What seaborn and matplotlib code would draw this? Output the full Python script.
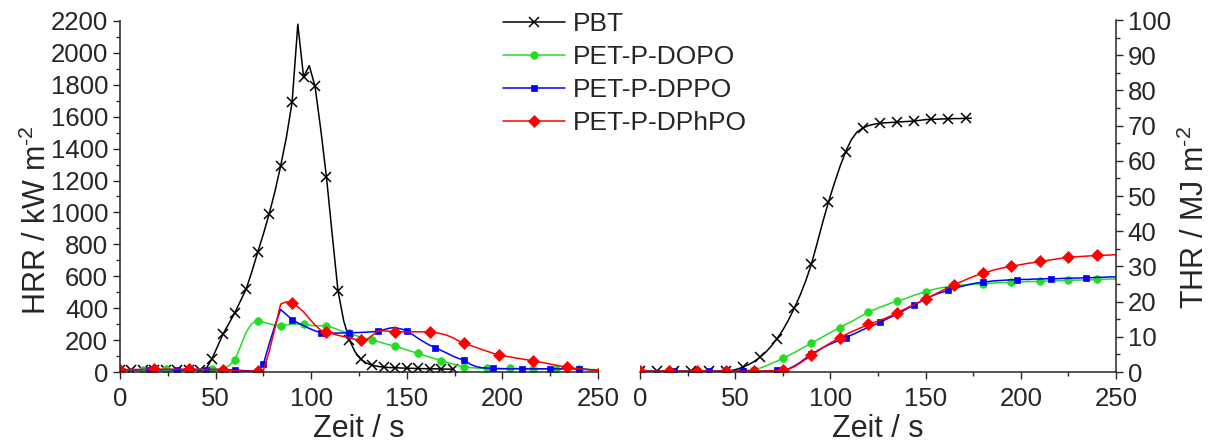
#!/usr/bin/env python3

import numpy as np
import matplotlib.pyplot as plt
import seaborn as sns
from matplotlib.ticker import MultipleLocator

SET_DPI = 100
FIGSIZE = (12.19, 4.44)

NAMES = ['PBT', 'PET-P-DOPO', 'PET-P-DPPO', 'PET-P-DPhPO']
COLOURS = ['#000000', '#22dd22', '#0000ff', '#ff0000']
MARKERS = ['x', 'o', 's', 'D']
MSIZES = [7, 5.5, 5, 6]
HRR_EVERY = [2, 4, 5, 6]
THR_EVERY = [3, 5, 6, 5]

# time in s, cone sampled every 3 s (PBT burns out at 174 s)
TIME_PBT = np.arange(0, 175, 3)
TIME = np.arange(0, 253, 3)

# heat release rate / kW m-2
HRR_PBT = [15, 15, 12, 12, 12, 12, 12, 12, 12, 12,
           12, 12, 12, 12, 15, 20, 80, 160, 240, 305,
           370, 445, 520, 630, 750, 865, 990, 1130, 1290, 1470,
           1690, 2180, 1850, 1920, 1790, 1520, 1220, 860, 510, 320,
           200, 125, 80, 55, 42, 35, 30, 28, 27, 25,
           24, 23, 22, 21, 20, 20, 19, 18, 18]
HRR_DOPO = [10, 12, 12, 13, 14, 14, 15, 15, 16, 15,
            15, 15, 16, 16, 16, 16, 17, 17, 20, 40,
            75, 160, 250, 305, 320, 312, 302, 294, 290, 295,
            300, 300, 298, 293, 290, 290, 290, 280, 265, 252,
            242, 230, 218, 208, 200, 190, 180, 170, 162, 150,
            138, 127, 116, 104, 93, 82, 71, 60, 50, 40,
            33, 28, 25, 23, 23, 22, 22, 22, 22, 22,
            22, 21, 21, 21, 20, 20, 20, 20, 20, 20,
            20, 18, 16, 15, 15]
HRR_DPPO = [12, 13, 14, 14, 15, 15, 15, 15, 15, 15,
            15, 15, 15, 15, 15, 15, 15, 15, 14, 14,
            13, 10, 8, 6, 10, 50, 175, 290, 392, 360,
            329, 308, 290, 273, 258, 247, 245, 244, 244, 245,
            246, 247, 248, 250, 252, 255, 265, 275, 278, 270,
            258, 235, 210, 188, 168, 152, 135, 118, 100, 85,
            75, 50, 35, 27, 24, 22, 21, 20, 20, 20,
            20, 20, 20, 20, 20, 20, 20, 20, 20, 20,
            20, 18, 14, 10, 10]
HRR_DPHPO = [15, 15, 16, 16, 16, 17, 17, 17, 17, 17,
             17, 17, 17, 17, 16, 16, 16, 16, 15, 12,
             8, 6, 5, 5, 5, 10, 127, 274, 425, 440,
             433, 408, 377, 335, 294, 262, 252, 240, 230, 222,
             213, 205, 200, 203, 230, 258, 258, 255, 252, 252,
             252, 252, 252, 252, 252, 247, 240, 230, 215, 196,
             179, 167, 155, 142, 130, 118, 106, 100, 94, 88,
             82, 76, 71, 64, 57, 50, 43, 36, 29, 24,
             20, 16, 13, 12, 11]

# total heat release / MJ m-2
THR_PBT = [0.2, 0.2, 0.2, 0.2, 0.2, 0.2, 0.2, 0.2, 0.2, 0.2,
           0.2, 0.2, 0.2, 0.2, 0.3, 0.3, 0.4, 0.8, 1.4, 2.1,
           3.0, 4.2, 5.6, 7.4, 9.5, 11.9, 14.8, 18.1, 21.7, 25.8,
           30.6, 36.5, 42.6, 48.3, 53.5, 58.3, 62.6, 66.0, 68.2, 69.3,
           70.0, 70.4, 70.7, 70.8, 70.9, 71.0, 71.1, 71.2, 71.3, 71.5,
           71.7, 71.8, 71.8, 71.9, 71.9, 72.0, 72.0, 72.1, 72.1]
THR_DOPO = [0.2, 0.2, 0.2, 0.2, 0.2, 0.2, 0.2, 0.2, 0.2, 0.2,
            0.2, 0.2, 0.2, 0.2, 0.2, 0.2, 0.2, 0.3, 0.3, 0.5,
            0.7, 1.1, 1.7, 2.4, 3.1, 3.9, 4.7, 5.5, 6.4, 7.3,
            8.2, 9.1, 10.0, 10.9, 11.8, 12.6, 13.5, 14.3, 15.2, 16.1,
            17.0, 17.7, 18.4, 19.0, 19.6, 20.1, 20.6, 21.2, 21.8, 22.3,
            22.8, 23.3, 23.7, 24.0, 24.2, 24.4, 24.6, 24.8, 24.9, 25.0,
            25.1, 25.2, 25.3, 25.4, 25.4, 25.5, 25.5, 25.6, 25.7, 25.7,
            25.8, 25.8, 25.9, 25.9, 26.0, 26.0, 26.1, 26.1, 26.2, 26.2,
            26.3, 26.3, 26.4, 26.4, 26.5]
THR_DPPO = [0.2, 0.2, 0.2, 0.2, 0.2, 0.2, 0.2, 0.2, 0.2, 0.2,
            0.2, 0.2, 0.2, 0.2, 0.2, 0.2, 0.2, 0.2, 0.2, 0.2,
            0.2, 0.2, 0.3, 0.3, 0.5, 0.6, 0.9, 1.7, 2.7, 3.9,
            5.0, 6.0, 6.9, 7.7, 8.4, 9.1, 9.8, 10.5, 11.2, 12.0,
            12.7, 13.4, 14.1, 14.9, 15.7, 16.5, 17.3, 18.2, 19.1, 19.9,
            20.7, 21.5, 22.2, 22.7, 23.2, 23.7, 24.2, 24.6, 25.0, 25.3,
            25.5, 25.7, 25.9, 26.0, 26.1, 26.2, 26.2, 26.3, 26.3, 26.4,
            26.4, 26.5, 26.5, 26.5, 26.6, 26.6, 26.7, 26.7, 26.8, 26.8,
            26.9, 26.9, 27.0, 27.0, 27.0]
THR_DPHPO = [0.2, 0.2, 0.2, 0.2, 0.2, 0.2, 0.2, 0.2, 0.2, 0.2,
             0.2, 0.2, 0.2, 0.2, 0.2, 0.2, 0.2, 0.2, 0.2, 0.2,
             0.2, 0.2, 0.3, 0.3, 0.4, 0.5, 0.8, 1.5, 2.5, 3.6,
             4.7, 5.8, 6.9, 7.9, 8.9, 9.8, 10.6, 11.4, 12.1, 12.8,
             13.5, 14.1, 14.7, 15.3, 16.0, 16.8, 17.6, 18.4, 19.2, 20.0,
             20.8, 21.6, 22.4, 23.2, 24.0, 24.8, 25.5, 26.2, 26.9, 27.5,
             28.0, 28.5, 29.0, 29.4, 29.7, 30.0, 30.3, 30.6, 30.9, 31.1,
             31.4, 31.6, 31.9, 32.1, 32.4, 32.6, 32.7, 32.8, 32.9, 33.0,
             33.1, 33.2, 33.2, 33.3, 33.3]


def draw_curve(ax, times, values, i, every):
    sns.lineplot(x=times, y=values, ax=ax, color=COLOURS[i],
                 marker=MARKERS[i], markersize=MSIZES[i], markevery=every,
                 markeredgecolor=COLOURS[i],
                 markeredgewidth=1.1 if MARKERS[i] == 'x' else 0.5,
                 linewidth=1.1, estimator=None, sort=False)


def style_axis(ax):
    ax.set_xlim(0, 250)
    ax.xaxis.set_major_locator(MultipleLocator(50))
    ax.xaxis.set_minor_locator(MultipleLocator(25))
    ax.tick_params(which='major', direction='out', length=5, width=1,
                   labelsize=18.5)
    ax.tick_params(which='minor', direction='out', length=3, width=1)
    ax.tick_params(axis='x', which='major', pad=6)
    ax.tick_params(axis='y', which='major', pad=3.5)
    ax.set_xlabel('Zeit / s', fontsize=22, labelpad=2)
    for sp in ax.spines.values():
        sp.set_linewidth(1.1)


sns.set_style('ticks')
plt.rcParams['font.family'] = ['Liberation Sans', 'DejaVu Sans']
plt.rcParams['mathtext.fontset'] = 'custom'
plt.rcParams['mathtext.rm'] = 'Liberation Sans'
plt.rcParams['mathtext.it'] = 'Liberation Sans:italic'

fig = plt.figure(figsize=FIGSIZE, dpi=SET_DPI)
ax_hrr = fig.add_axes([120 / 1219, 72 / 444, 478 / 1219, 351 / 444])
ax_thr = fig.add_axes([640 / 1219, 72 / 444, 476 / 1219, 352 / 444])

hrr_times = [TIME_PBT, TIME, TIME, TIME]
hrr_data = [HRR_PBT, HRR_DOPO, HRR_DPPO, HRR_DPHPO]
thr_data = [THR_PBT, THR_DOPO, THR_DPPO, THR_DPHPO]

for i in range(4):
    draw_curve(ax_hrr, hrr_times[i], hrr_data[i], i, HRR_EVERY[i])
    draw_curve(ax_thr, hrr_times[i], thr_data[i], i, THR_EVERY[i])

# left panel: HRR
style_axis(ax_hrr)
ax_hrr.set_ylim(0, 2200)
ax_hrr.yaxis.set_major_locator(MultipleLocator(200))
ax_hrr.yaxis.set_minor_locator(MultipleLocator(100))
ax_hrr.set_ylabel('HRR / kW m$^{\\text{-2}}$', fontsize=22, labelpad=-2,
                  y=0.433)
ax_hrr.spines['top'].set_visible(False)
ax_hrr.spines['right'].set_visible(False)

# right panel: THR, axis on the right
style_axis(ax_thr)
ax_thr.set_ylim(0, 100)
ax_thr.yaxis.set_major_locator(MultipleLocator(10))
ax_thr.yaxis.set_minor_locator(MultipleLocator(5))
ax_thr.yaxis.tick_right()
ax_thr.yaxis.set_label_position('right')
ax_thr.set_ylabel('THR / MJ m$^{\\text{-2}}$', fontsize=22, labelpad=6,
                  y=0.44)
ax_thr.spines['top'].set_visible(False)
ax_thr.spines['left'].set_visible(False)

handles = ax_hrr.get_lines()[:4]
fig.legend(handles, NAMES, loc='upper left',
           bbox_to_anchor=(503 / 1219, 1 - 12 / 444), frameon=False,
           fontsize=19, handlelength=2.35, handletextpad=0.3,
           labelspacing=0.34, borderpad=0, borderaxespad=0)

plt.savefig('out.png', dpi=SET_DPI)
plt.close()
